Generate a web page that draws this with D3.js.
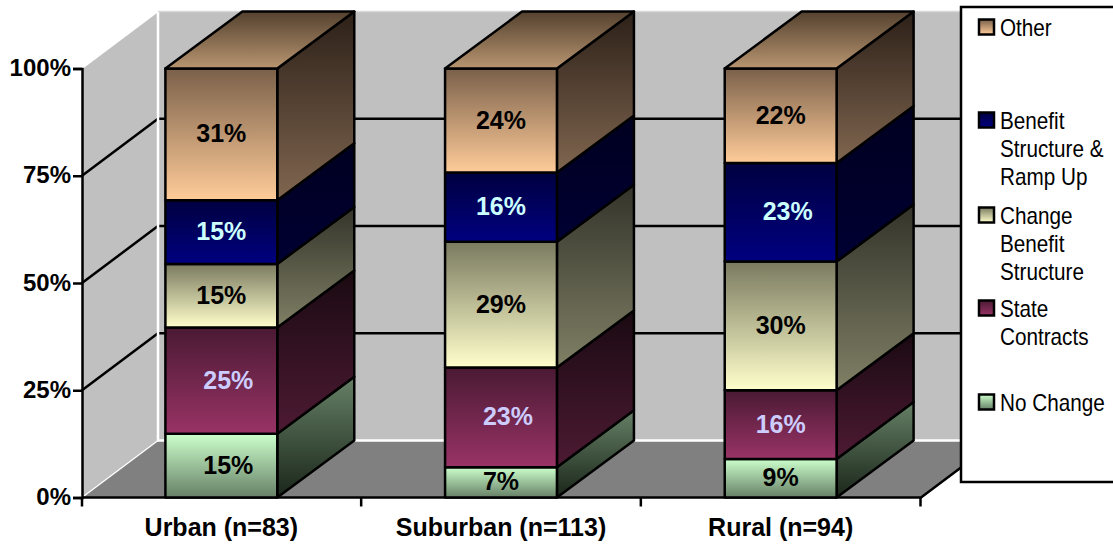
<!DOCTYPE html>
<html>
<head>
<meta charset="utf-8">
<script src="https://cdn.jsdelivr.net/npm/d3@7/dist/d3.min.js"></script>
<style>
html,body{margin:0;padding:0;background:#fff;overflow:hidden}
svg{display:block}
text{font-family:"Liberation Sans",Arial,sans-serif}
</style>
</head>
<body>
<svg id="chart" width="1113" height="544"></svg>
<script>
// Survey responses by setting, stacked to 100%
const categories = ["Urban (n=83)", "Suburban (n=113)", "Rural (n=94)"];
const seriesNames = ["No Change", "State Contracts", "Change Benefit Structure", "Benefit Structure & Ramp Up", "Other"];
const noChange = [15, 7, 9];
const stateContracts = [25, 23, 16];
const changeBenefit = [15, 29, 30];
const benefitRamp = [15, 16, 23];
const other = [31, 24, 22];
const yTicks = [0, 0.25, 0.5, 0.75, 1];

// Legend wording, top to bottom, one entry per wrapped line
const legendLines = [["Other"], ["Benefit", "Structure &", "Ramp Up"], ["Change", "Benefit", "Structure"], ["State", "Contracts"], ["No Change"]];

const table = categories.map((c, i) => ({
  category: c,
  [seriesNames[0]]: noChange[i],
  [seriesNames[1]]: stateContracts[i],
  [seriesNames[2]]: changeBenefit[i],
  [seriesNames[3]]: benefitRamp[i],
  [seriesNames[4]]: other[i]
}));

// Fill ramps per series: front [top,bottom], side [top,bottom]
const front = {
  "No Change": ["#ccffcc", "#668066"],
  "State Contracts": ["#4a1a33", "#993366"],
  "Change Benefit Structure": ["#7a7a60", "#ffffcc"],
  "Benefit Structure & Ramp Up": ["#000040", "#000080"],
  "Other": ["#7a604a", "#ffcc99"]
};
const side = {
  "No Change": ["#668066", "#1a261a"],
  "State Contracts": ["#1a0a12", "#4d1a33"],
  "Change Benefit Structure": ["#33332a", "#808066"],
  "Benefit Structure & Ramp Up": ["#000020", "#000033"],
  "Other": ["#2c2018", "#806650"]
};
const labelColor = {"State Contracts": "#ccccff", "Benefit Structure & Ramp Up": "#ccffff"};
// Horizontal nudge of individual value labels, [series][category]
const labelNudge = [[7, 0, 0], [7, 7, 0], [0, 0, 0], [0, 0, 7], [0, 0, 0]];

const svg = d3.select("#chart");
const defs = svg.append("defs");
const DX = 77, DY = -57, WALL_DX = 76;
const x = d3.scaleBand().domain(categories).range([81.5, 920.5]).paddingInner(0.6).paddingOuter(0.3);
const y = d3.scaleLinear().domain([0, 1]).range([497.5, 68.5]);
const X0 = 82, X1 = 921;
const LINE = 2.5;

function ramp(id, colors) {
  const g = defs.append("linearGradient").attr("id", id).attr("x1", 0).attr("y1", 0).attr("x2", 0).attr("y2", 1);
  g.append("stop").attr("offset", 0).attr("stop-color", colors[0]);
  g.append("stop").attr("offset", 1).attr("stop-color", colors[1]);
}
seriesNames.forEach((s, i) => {
  ramp("front" + i, front[s]);
  ramp("side" + i, side[s]);
});
ramp("topFace", ["#54412f", "#b89570"]);

const poly = pts => "M" + pts.map(p => p.join(",")).join("L") + "Z";
const wall = svg.append("g");
const top100 = y(1), bottom = y(0);

// Walls and floor
wall.append("path").attr("d", poly([[X0, top100], [X0 + WALL_DX, top100 + DY], [X0 + WALL_DX, bottom + DY], [X0, bottom]])).attr("fill", "#c0c0c0");
wall.append("path").attr("d", poly([[X0 + WALL_DX, top100 + DY], [X1 + WALL_DX, top100 + DY], [X1 + WALL_DX, bottom + DY], [X0 + WALL_DX, bottom + DY]])).attr("fill", "#c0c0c0");
wall.append("path").attr("d", poly([[X0, bottom], [X1, bottom], [X1 + WALL_DX, bottom + DY], [X0 + WALL_DX, bottom + DY]])).attr("fill", "#808080");

// Gridlines across side and back walls
yTicks.slice(1, 4).forEach(t => {
  wall.append("path").attr("fill", "none").attr("stroke", "#000").attr("stroke-width", LINE)
    .attr("d", `M${X0},${y(t)}L${X0 + WALL_DX},${y(t) + DY}L${X1 + WALL_DX},${y(t) + DY}`);
});

// Wall highlights
wall.append("path").attr("fill", "none").attr("stroke", "#fff").attr("stroke-width", 1.25)
  .attr("d", `M${X0},${top100}L${X0 + WALL_DX},${top100 + DY}M${X0},${bottom}L${X0 + WALL_DX},${bottom + DY}`);
wall.append("path").attr("fill", "none").attr("stroke", "#fff").attr("stroke-width", 2.5)
  .attr("d", `M${X0 + WALL_DX},${top100 + DY}V${bottom + DY}H${X1 + WALL_DX}`);
wall.append("path").attr("fill", "none").attr("stroke", "#d8d8d8").attr("stroke-width", 1.5)
  .attr("d", `M${X0 + WALL_DX},${top100 + DY}H${X1 + WALL_DX}`);

// Axes
const yAxis = d3.axisLeft(y).tickValues(yTicks).tickFormat(d3.format(".0%")).tickSize(9).tickPadding(2);
const gy = svg.append("g").attr("transform", `translate(${X0},0)`).call(yAxis);
gy.selectAll("path,line").attr("stroke", "#000").attr("stroke-width", LINE);
gy.selectAll("text").attr("font-size", 24).attr("font-weight", "bold").attr("fill", "#000").attr("dy", "0.3em").style("font-family", '"Liberation Sans",Arial,sans-serif');

const xAxis = d3.axisBottom(x).tickSize(0).tickPadding(21);
const gx = svg.append("g").attr("transform", `translate(0,${bottom})`).call(xAxis);
gx.selectAll("path").remove();
gx.selectAll("text").attr("font-size", 25).attr("font-weight", "bold").attr("fill", "#000").style("font-family", '"Liberation Sans",Arial,sans-serif');

const baseLine = svg.append("g").attr("stroke", "#000").attr("stroke-width", LINE).attr("fill", "none");
baseLine.append("path").attr("d", `M${X0},${bottom}H${X1}L${X1 + WALL_DX},${bottom + DY}`);
const seps = [X0].concat(categories.map(c => x(c) + x.bandwidth() / 2 + x.step() / 2));
baseLine.selectAll("line.sep").data(seps).join("line").attr("class", "sep")
  .attr("x1", d => d).attr("x2", d => d).attr("y1", bottom).attr("y2", bottom + 9);

// Stacked 3D columns
const stack = d3.stack().keys(seriesNames).offset(d3.stackOffsetExpand);
const layers = stack(table);
const bars = svg.append("g").attr("stroke", "#000").attr("stroke-width", LINE).attr("stroke-linejoin", "round");

layers.forEach((layer, si) => {
  layer.forEach(d => {
    const c = d.data.category;
    const l = x(c), r = l + x.bandwidth();
    const y0 = y(d[0]), y1 = y(d[1]);
    bars.append("path").attr("fill", `url(#side${si})`)
      .attr("d", poly([[r, y1], [r + DX, y1 + DY], [r + DX, y0 + DY], [r, y0]]));
    bars.append("path").attr("fill", `url(#front${si})`)
      .attr("d", poly([[l, y1], [r, y1], [r, y0], [l, y0]]));
    if (si === layers.length - 1) {
      bars.append("path").attr("fill", "url(#topFace)")
        .attr("d", poly([[l, y1], [r, y1], [r + DX, y1 + DY], [l + DX, y1 + DY]]));
    }
  });
});

// Value labels
const values = [noChange, stateContracts, changeBenefit, benefitRamp, other];
layers.forEach((layer, si) => {
  layer.forEach((d, ci) => {
    const c = d.data.category;
    svg.append("text")
      .attr("x", x(c) + x.bandwidth() / 2 + labelNudge[si][ci])
      .attr("y", (y(d[0]) + y(d[1])) / 2 - 1)
      .attr("dy", "0.36em")
      .attr("text-anchor", "middle")
      .attr("font-size", 25).attr("font-weight", "bold")
      .attr("fill", labelColor[seriesNames[si]] || "#000")
      .text(values[si][ci] + "%");
  });
});

// Legend
const legend = svg.append("g");
legend.append("rect").attr("x", 961).attr("y", 7).attr("width", 170).attr("height", 475)
  .attr("fill", "#fff").attr("stroke", "#000").attr("stroke-width", LINE);
const legendTop = [27, 120, 215, 308, 402];
legendLines.forEach((lines, i) => {
  const si = seriesNames.length - 1 - i;
  legend.append("rect").attr("x", 979).attr("y", legendTop[i] - 7.5).attr("width", 15).attr("height", 15)
    .attr("fill", `url(#front${si})`).attr("stroke", "#000").attr("stroke-width", LINE);
  lines.forEach((t, li) => {
    legend.append("text")
      .attr("transform", `translate(1000,${legendTop[i] + 8.5 + li * 28.3}) scale(0.9,1)`)
      .attr("font-size", 23).attr("fill", "#000").text(t);
  });
});
</script>
</body>
</html>
